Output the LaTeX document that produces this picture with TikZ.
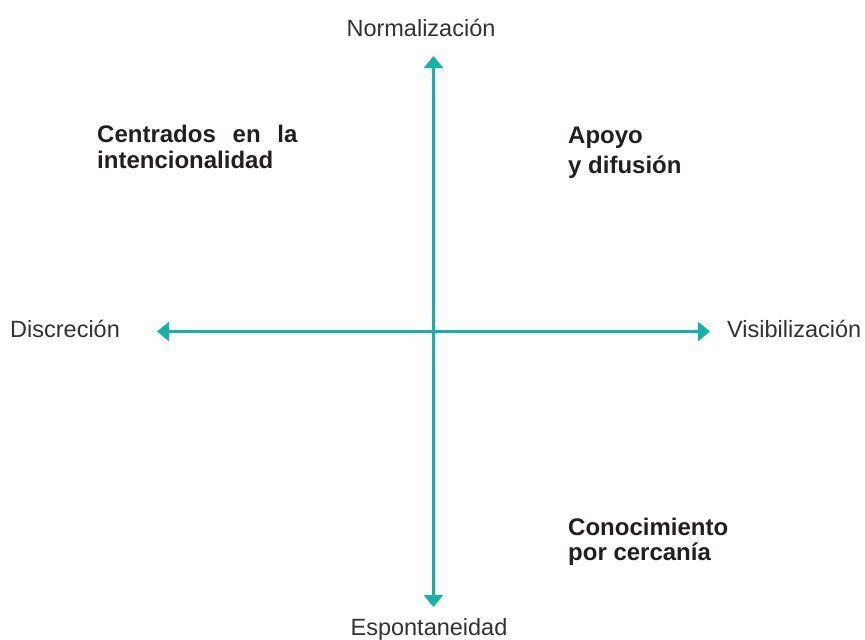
\documentclass[tikz,border=0pt]{standalone}
\usepackage{fontspec}
\setmainfont{Liberation Sans}
\usetikzlibrary{arrows.meta}
\definecolor{teal1}{RGB}{22,178,166}
\definecolor{lbl}{RGB}{50,50,50}
\definecolor{blk}{RGB}{35,31,32}
\tikzset{
  axis/.style={draw=teal1, line width=2.6pt, {Triangle[length=12pt,width=19pt]}-{Triangle[length=12pt,width=19pt]}},
  axlbl/.style={inner sep=0pt, text=lbl, font=\fontsize{23.5}{24}\selectfont},
  quad/.style={inner sep=0pt, text=blk, align=left, font=\bfseries\fontsize{24}{24}\selectfont},
}
\begin{document}
\begin{tikzpicture}[x=1pt,y=-1pt]
\useasboundingbox (0,0) rectangle (865,640);
\coordinate (top) at (433.5,56);
\coordinate (bot) at (433.5,607);
\coordinate (lft) at (157,331.5);
\coordinate (rgt) at (710,331.5);
\draw[axis] (bot) -- (top);
\draw[axis] (lft) -- (rgt);
\node[axlbl, anchor=base] (nor) at (421,36) {Normalización};
\node[axlbl, anchor=base] (esp) at (429,635) {Espontaneidad};
\node[axlbl, anchor=base west] (dis) at (10,337) {Discreción};
\node[axlbl, anchor=base west] (vis) at (727,337) {Visibilización};
\node[quad, anchor=base west] (cen1) at (97,142.5) {Centrados\hspace{0.7em}en\hspace{0.7em}la};
\node[quad, anchor=base west] (cen2) at (97,168.5) {intencionalidad};
\node[quad, anchor=base west] (apo1) at (568,143.5) {Apoyo};
\node[quad, anchor=base west] (apo2) at (568,173.5) {y difusión};
\node[quad, anchor=base west] (con1) at (568,535) {Conocimiento};
\node[quad, anchor=base west] (con2) at (568,560) {por cercanía};
\end{tikzpicture}
\end{document}
